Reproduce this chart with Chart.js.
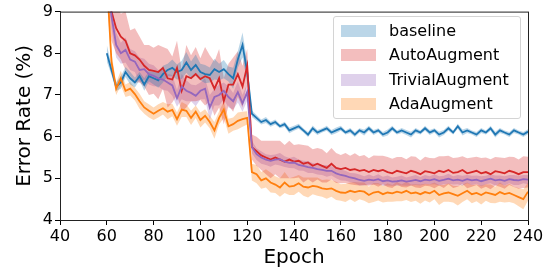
<!DOCTYPE html>
<html>
<head>
<meta charset="utf-8">
<script src="https://cdn.jsdelivr.net/npm/chart.js@4.4.1/dist/chart.umd.min.js"></script>
<style>
  body { margin: 0; background: #fff; }
  #wrap { position: relative; width: 557px; height: 274px; }
  #legend {
    position: absolute; left: 333px; top: 16px; width: 186px; height: 101px;
    background: rgba(255,255,255,0.85); border: 1px solid #d4d4d4; border-radius: 3px;
    font-family: "DejaVu Sans", sans-serif; font-size: 16px; color: #000;
  }
  .row { position: absolute; left: 0; height: 20px; line-height: 20px; white-space: nowrap; }
  .patch { position: absolute; left: 7px; top: 4px; width: 35px; height: 12px; }
  .lbl { position: absolute; left: 55px; top: 0; }
</style>
</head>
<body>
<div id="wrap">
  <canvas id="errChart"></canvas>
  <div id="legend"></div>
</div>
<script>
const epochs = [60,62,64,66,68,70,72,74,76,78,80,82,84,86,88,90,92,94,96,98,100,102,104,106,108,110,112,114,116,118,120,
  122,124,126,128,130,132,134,136,138,140,142,144,146,148,150,152,154,156,158,160,162,164,166,168,170,172,174,176,178,180,
  182,184,186,188,190,192,194,196,198,200,202,204,206,208,210,212,214,216,218,220,222,224,226,228,230,232,234,236,238,240];

const baseline = [8.0,7.6,7.2,7.3,7.55,7.4,7.3,7.45,7.25,7.45,
  7.4,7.35,7.5,7.6,7.65,7.55,7.6,7.78,7.6,7.72,7.55,7.5,7.48,7.62,7.55,7.62,7.5,7.4,7.85,8.2,7.55,
  6.55,6.45,6.35,6.4,6.3,6.35,6.25,6.3,6.15,6.2,6.25,6.15,6.05,6.2,6.1,6.15,6.2,6.1,6.15,6.2,
  6.1,6.15,6.05,6.15,6.1,6.2,6.1,6.15,6.05,6.1,6.2,6.1,6.15,6.1,6.05,6.15,6.1,6.2,6.1,6.15,
  6.05,6.1,6.2,6.1,6.25,6.1,6.15,6.1,6.05,6.15,6.1,6.2,6.05,6.15,6.1,6.05,6.15,6.1,6.05,6.12];
const baselineSd = [0.2,0.12,0.1,0.15,0.12,0.15,0.12,0.1,0.15,0.12,
  0.15,0.18,0.2,0.15,0.2,0.18,0.22,0.25,0.2,0.25,0.2,0.22,0.18,0.25,0.2,0.22,0.18,0.25,0.2,0.3,0.25,
  0.08,0.07,0.06,0.07,0.06,0.06,0.05,0.06,0.07,0.06,0.06,0.05,0.06,0.07,0.06,0.05,0.06,0.06,0.07,0.06,
  0.05,0.06,0.06,0.05,0.07,0.06,0.06,0.05,0.06,0.07,0.06,0.05,0.06,0.06,0.07,0.06,0.05,0.06,0.06,0.05,
  0.07,0.06,0.06,0.05,0.06,0.07,0.06,0.05,0.06,0.06,0.05,0.06,0.07,0.06,0.05,0.06,0.06,0.05,0.06,0.06];

const autoAug = [10.0,9.0,8.6,8.4,8.3,8.0,7.95,7.85,7.7,7.6,
  7.58,7.55,7.65,7.4,7.37,7.65,7.1,7.45,7.4,7.5,7.38,7.45,7.4,7.15,7.4,6.85,7.25,7.25,7.5,7.2,7.7,
  5.75,5.65,5.55,5.5,5.45,5.5,5.45,5.4,5.45,5.4,5.42,5.35,5.38,5.3,5.35,5.3,5.25,5.35,5.25,5.22,
  5.25,5.2,5.22,5.18,5.2,5.15,5.2,5.17,5.2,5.15,5.12,5.18,5.15,5.12,5.18,5.15,5.1,5.17,5.15,5.12,
  5.18,5.15,5.2,5.13,5.15,5.2,5.12,5.15,5.18,5.12,5.15,5.1,5.17,5.15,5.12,5.18,5.15,5.1,5.15,5.15];
const autoAugSd = [0.7,0.7,0.6,0.55,0.7,0.55,0.65,0.55,0.5,0.6,
  0.55,0.65,0.5,0.7,0.55,0.65,0.5,0.75,0.55,0.65,0.5,0.7,0.55,0.65,0.7,0.55,0.5,0.65,0.55,0.5,0.4,
  0.3,0.35,0.35,0.4,0.45,0.4,0.45,0.4,0.45,0.4,0.4,0.45,0.4,0.4,0.38,0.4,0.35,0.38,0.36,0.34,
  0.36,0.34,0.38,0.35,0.36,0.33,0.35,0.37,0.34,0.36,0.35,0.33,0.36,0.34,0.35,0.37,0.33,0.35,0.34,0.36,
  0.35,0.38,0.34,0.36,0.35,0.33,0.36,0.35,0.34,0.37,0.35,0.36,0.34,0.35,0.37,0.34,0.36,0.35,0.38,0.37];

const trivialAug = [10.0,8.9,8.2,8.0,8.08,7.85,7.8,7.6,7.62,7.5,
  7.46,7.4,7.37,7.3,7.23,6.92,7.2,7.1,7.05,6.98,7.1,7.15,6.7,6.95,7.0,7.1,6.95,6.85,7.07,6.8,7.07,
  5.75,5.58,5.5,5.45,5.42,5.45,5.46,5.4,5.37,5.38,5.32,5.3,5.27,5.25,5.22,5.2,5.18,5.18,5.12,5.08,
  5.06,5.02,5.0,4.96,4.94,4.97,4.95,4.98,4.93,4.95,4.92,4.93,4.95,4.92,4.94,4.96,4.93,4.97,4.95,4.98,
  4.94,4.96,4.99,4.95,4.97,4.94,4.98,4.95,4.97,4.93,4.96,4.99,4.95,4.97,4.94,4.98,4.96,4.95,4.98,4.97];
const trivialAugSd = [0.35,0.3,0.3,0.25,0.3,0.25,0.25,0.3,0.25,0.25,
  0.25,0.2,0.25,0.2,0.25,0.2,0.3,0.25,0.2,0.25,0.2,0.25,0.3,0.2,0.25,0.2,0.25,0.2,0.25,0.2,0.2,
  0.15,0.14,0.15,0.13,0.14,0.12,0.15,0.13,0.12,0.14,0.13,0.12,0.14,0.12,0.13,0.12,0.14,0.11,0.12,0.13,
  0.12,0.11,0.12,0.13,0.11,0.12,0.1,0.12,0.11,0.12,0.1,0.11,0.12,0.1,0.11,0.12,0.1,0.11,0.1,0.12,
  0.11,0.1,0.12,0.1,0.11,0.12,0.1,0.11,0.1,0.12,0.1,0.11,0.12,0.1,0.11,0.1,0.12,0.11,0.1,0.11];

const adaAug = [9.8,7.8,7.15,7.4,7.1,7.15,7.02,6.85,6.7,6.62,
  6.55,6.62,6.68,6.6,6.64,6.42,6.65,6.62,6.45,6.6,6.4,6.5,6.35,6.15,6.45,6.65,6.25,6.3,6.38,6.42,6.45,
  5.15,5.1,4.95,5.0,4.9,4.85,4.78,4.9,4.8,4.82,4.88,4.8,4.78,4.82,4.8,4.76,4.74,4.76,4.7,4.66,
  4.65,4.7,4.67,4.7,4.68,4.6,4.66,4.68,4.62,4.66,4.64,4.68,4.65,4.7,4.64,4.66,4.62,4.67,4.64,4.7,
  4.6,4.64,4.66,4.62,4.58,4.64,4.7,4.62,4.65,4.6,4.66,4.63,4.6,4.67,4.62,4.65,4.6,4.55,4.5,4.68];
const adaAugSd = [0.3,0.2,0.15,0.18,0.15,0.16,0.15,0.18,0.15,0.16,
  0.15,0.16,0.15,0.18,0.15,0.16,0.18,0.15,0.17,0.15,0.18,0.16,0.15,0.2,0.16,0.2,0.18,0.16,0.2,0.18,0.16,
  0.2,0.22,0.2,0.22,0.24,0.2,0.22,0.25,0.2,0.22,0.2,0.22,0.24,0.2,0.22,0.2,0.23,0.2,0.22,0.2,
  0.22,0.2,0.24,0.2,0.22,0.2,0.23,0.21,0.2,0.22,0.2,0.23,0.2,0.22,0.21,0.2,0.23,0.2,0.22,0.2,
  0.24,0.2,0.22,0.2,0.23,0.21,0.2,0.22,0.2,0.23,0.2,0.22,0.2,0.23,0.2,0.22,0.2,0.22,0.24,0.22];

const series = [
  { name: "baseline", mean: baseline, sd: baselineSd, color: "#1f77b4", band: "rgba(31,119,180,0.3)" },
  { name: "AutoAugment", mean: autoAug, sd: autoAugSd, color: "#d62728", band: "rgba(214,39,40,0.3)" },
  { name: "TrivialAugment", mean: trivialAug, sd: trivialAugSd, color: "#9467bd", band: "rgba(148,103,189,0.3)" },
  { name: "AdaAugment", mean: adaAug, sd: adaAugSd, color: "#ff7f0e", band: "rgba(255,127,14,0.3)" },
];

const datasets = [];
series.forEach(s => {
  datasets.push({
    label: s.name + " hi",
    data: epochs.map((e, i) => ({ x: e, y: s.mean[i] + s.sd[i] })),
    fill: "+1", backgroundColor: s.band, borderColor: "transparent", borderWidth: 0, pointRadius: 0, order: 5,
  });
  datasets.push({
    label: s.name + " lo",
    data: epochs.map((e, i) => ({ x: e, y: s.mean[i] - s.sd[i] })),
    fill: false, borderColor: "transparent", borderWidth: 0, pointRadius: 0, order: 5,
  });
});
series.forEach((s, k) => {
  datasets.push({
    label: s.name,
    data: epochs.map((e, i) => ({ x: e, y: s.mean[i] })),
    borderColor: s.color, borderWidth: 1.8, pointRadius: 0, fill: false, tension: 0, order: 4 - k,
  });
});

// top and right spines
const frame = {
  id: "frame",
  afterDraw(chart) {
    const { ctx, chartArea: a } = chart;
    ctx.save();
    ctx.strokeStyle = "#222";
    ctx.lineWidth = 1;
    ctx.strokeRect(a.left + 0.5, a.top + 0.5, a.right - a.left, a.bottom - a.top);
    ctx.restore();
  },
};

Chart.defaults.font.family = "DejaVu Sans";
Chart.defaults.color = "#000";

new Chart(document.getElementById("errChart"), {
  type: "line",
  data: { datasets: datasets },
  options: {
    responsive: true,
    maintainAspectRatio: false,
    animation: false,
    layout: { padding: { top: 8, right: 29, left: 0, bottom: 0 } },
    plugins: {
      legend: { display: false },
      tooltip: { enabled: false },
    },
    scales: {
      x: {
        type: "linear",
        min: 40,
        max: 240,
        ticks: { stepSize: 20, font: { size: 16 }, padding: 2 },
        grid: { drawOnChartArea: false, drawTicks: true, tickLength: 5, tickColor: "#000" },
        border: { display: true, color: "#222" },
        title: { display: true, text: "Epoch", font: { size: 20 }, padding: { top: 0, bottom: 4 } },
        afterFit: s => { s.height = 54; },
      },
      y: {
        min: 4,
        max: 9,
        ticks: { stepSize: 1, font: { size: 16 }, padding: 2 },
        grid: { drawOnChartArea: false, drawTicks: true, tickLength: 5, tickColor: "#000" },
        border: { display: true, color: "#222" },
        title: { display: true, text: "Error Rate (%)", font: { size: 20 }, padding: { top: 13, bottom: 0 } },
        afterFit: s => { s.width = 60; },
      },
    },
  },
  plugins: [frame],
});

const legend = document.getElementById("legend");
series.forEach((s, i) => {
  const row = document.createElement("div");
  row.className = "row";
  row.style.top = (4 + i * 24.3) + "px";
  row.innerHTML = '<span class="patch" style="background:' + s.band + '"></span><span class="lbl">' + s.name + "</span>";
  legend.appendChild(row);
});
</script>
</body>
</html>
